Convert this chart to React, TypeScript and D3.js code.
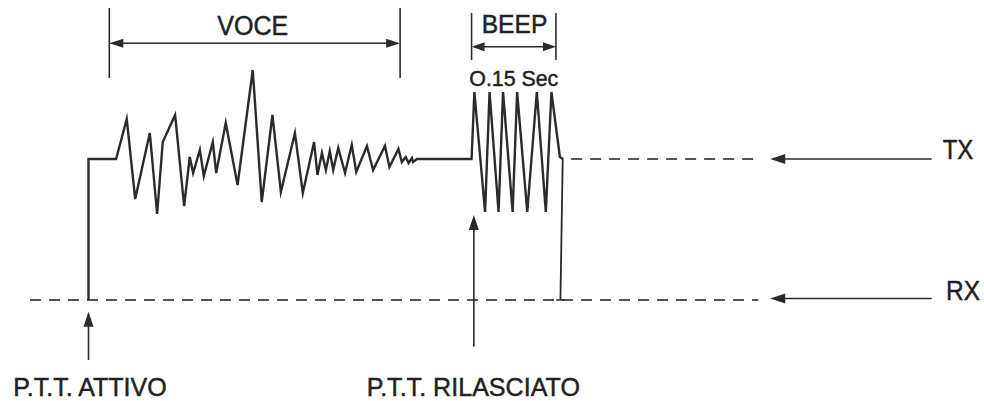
import React, { useEffect, useRef } from 'react';
import * as d3 from 'd3';

// time in ms along the trace, amplitude relative to the TX level
const voiceTime = [153, 172, 187, 213, 226, 236, 258, 274, 284, 290, 302, 309, 325, 331, 348, 369, 396, 412, 431, 446, 471, 485, 505, 511, 519, 526, 533, 539, 548, 560, 572, 580, 599, 610, 631, 639, 655, 661, 668, 673, 679, 681, 688];
const voiceAmp = [0, 40, -40, 26, -55, 17, 44, -47, 2, -14, 9, -17, 17, -14, 36, -26, 89, -43, 44, -33, 26, -34, 17, -16, 6, -11, 8, -11, 11, -14, 14, -13, 13, -11, 13, -8, 10, -3, 2, -4, 1, -3, 0];
const beepTime = [785, 790, 809, 817, 833, 841, 858, 866, 884, 901, 917, 927, 942, 948];
const beepAmp = [0, 67, -53, 67, -53, 67, -53, 67, -53, 67, -53, 67, 2, 0];

const levels = ['TX', 'RX'];
const levelAmp = [0, -141];

const pttPress = 104;
const pttRelease = 946;
const voiceSpan = [141, 658];
const beepSpan = [785, 935];
const beepLabel = 'O.15 Sec';
const dashedStart = [962, 0]; // TX dashes start after release, RX from origin
const levelArrow = [1316, 1603];

const W = 984;
const H = 401;
const INK = '#2b2b2b';
const FONT = '"Liberation Sans", Arial, Helvetica, sans-serif';

function App() {
  const ref = useRef<SVGSVGElement>(null);

  useEffect(() => {
    const svg = d3.select(ref.current);
    svg.selectAll('*').remove();

    const x = d3.scaleLinear().domain([0, 1600]).range([30, 930]);
    const y = d3.scaleLinear().domain([-141, 100]).range([300, 59]);

    const line = d3.line<[number, number]>()
      .x(d => x(d[0]))
      .y(d => y(d[1]));

    // filled arrow head, tip at (tx, ty), pointing in direction (dx, dy)
    const head = (tx: number, ty: number, dx: number, dy: number, len = 14, half = 4.5) => {
      const px = -dy, py = dx;
      const bx = tx - dx * len, by = ty - dy * len;
      svg.append('path')
        .attr('d', `M${tx},${ty}L${bx + px * half},${by + py * half}L${bx - px * half},${by - py * half}Z`)
        .attr('fill', INK);
    };

    const seg = (x1: number, y1: number, x2: number, y2: number, w = 1.6) =>
      svg.append('line')
        .attr('x1', x1).attr('y1', y1).attr('x2', x2).attr('y2', y2)
        .attr('stroke', INK).attr('stroke-width', w);

    const label = (txt: string, cx: number, base: number, size: number, len: number) =>
      svg.append('text')
        .attr('x', cx).attr('y', base)
        .attr('text-anchor', 'middle')
        .attr('font-family', FONT)
        .attr('font-size', size)
        .attr('textLength', len)
        .attr('lengthAdjust', 'spacingAndGlyphs')
        .attr('fill', '#222')
        .attr('stroke', '#222')
        .attr('stroke-width', 0.45)
        .text(txt);

    // dashed TX / RX levels
    const txY = y(levelAmp[0]);
    const rxY = y(levelAmp[1]);
    svg.append('line')
      .attr('x1', x(dashedStart[0])).attr('x2', x(levelArrow[0]) - 12)
      .attr('y1', txY).attr('y2', txY)
      .attr('stroke', '#555').attr('stroke-width', 2).attr('stroke-dasharray', '11 8');
    svg.append('line')
      .attr('x1', x(dashedStart[1])).attr('x2', x(levelArrow[0]) - 12)
      .attr('y1', rxY).attr('y2', rxY)
      .attr('stroke', '#555').attr('stroke-width', 2).attr('stroke-dasharray', '11 8');

    // level arrows and names
    levels.forEach((name, i) => {
      const ly = y(levelAmp[i]) - (i === 1 ? 1.5 : 0);
      seg(x(levelArrow[0]) + 10, ly, x(levelArrow[1]), ly);
      head(x(levelArrow[0]), ly, -1, 0, 15, 5);
      label(name, i === 0 ? 958 : 963, y(levelAmp[i]) - 0.5, 27, i === 0 ? 30.6 : 34);
    });

    // trace: press, voice, idle, beep
    const trace: [number, number][] = [
      [pttPress, levelAmp[1]],
      [pttPress, 0],
      ...voiceTime.map((t, i) => [t, voiceAmp[i]] as [number, number]),
      ...beepTime.map((t, i) => [t, beepAmp[i]] as [number, number]),
    ];
    svg.append('path')
      .attr('d', line(trace))
      .attr('fill', 'none')
      .attr('stroke', INK)
      .attr('stroke-width', 2.4)
      .attr('stroke-linejoin', 'miter')
      .attr('stroke-miterlimit', 6);

    // release drop back to RX
    svg.append('path')
      .attr('d', line([[pttRelease + 1, 0], [pttRelease - 3, levelAmp[1]]]))
      .attr('stroke', INK).attr('stroke-width', 1.8).attr('fill', 'none');
    seg(x(pttRelease - 3) - 4, rxY, x(pttRelease - 3) + 4, rxY, 1.5);

    // VOCE dimension
    const v0 = x(voiceSpan[0]), v1 = x(voiceSpan[1]);
    seg(v0, 8, v0, 78);
    seg(v1, 8, v1, 78);
    seg(v0 + 10, 43.3, v1 - 10, 43.3);
    head(v0, 43.3, -1, 0);
    head(v1, 43.3, 1, 0);
    label('VOCE', (v0 + v1) / 2 - 2, 35, 27, 71);

    // BEEP dimension
    const b0 = x(beepSpan[0]), b1 = x(beepSpan[1]);
    seg(b0, 13, b0, 60);
    seg(b1, 13, b1, 60);
    seg(b0 + 10, 46.7, b1 - 10, 46.7);
    head(b0, 46.7, -1, 0, 13, 4.5);
    head(b1, 46.7, 1, 0, 13, 4.5);
    label('BEEP', 514.5, 33.3, 25, 65.6);
    label(beepLabel, 513.8, 86, 22, 89);

    // P.T.T. markers
    const px = x(pttPress);
    seg(px, 326, px, 360);
    head(px, 311.7, 0, -1, 15, 5);
    label('P.T.T. ATTIVO', 90, 395.5, 25, 153.4);

    const rx = x(beepSpan[0]) + 2.3;
    seg(rx, 228, rx, 346.7);
    head(rx, 215, 0, -1, 15, 5);
    label('P.T.T. RILASCIATO', 473.3, 395.5, 25, 213.3);
  }, []);

  return (
    <svg
      ref={ref}
      width={W}
      height={H}
      style={{ position: 'absolute', left: 0, top: 0, background: '#fff' }}
    />
  );
}

export default App;
